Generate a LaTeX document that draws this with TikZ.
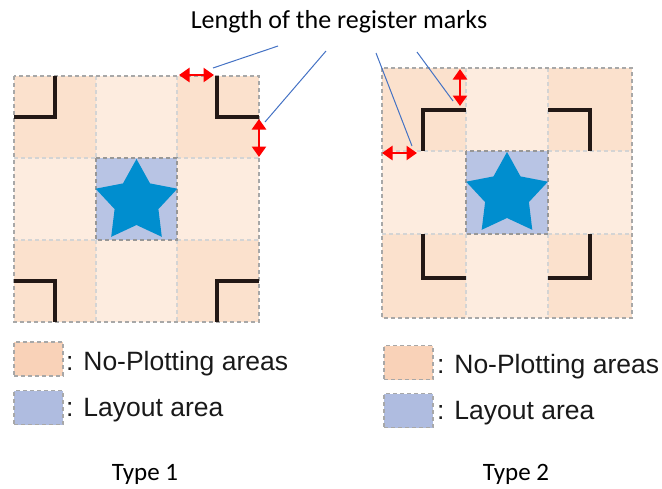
\documentclass[tikz,border=0pt]{standalone}
\usepackage{fontspec}
\setmainfont{Carlito}
\newfontfamily\legendfont{Liberation Sans}
\usetikzlibrary{arrows.meta}
\definecolor{npcorner}{HTML}{FBE1CD}
\definecolor{npedge}{HTML}{FDECDF}
\definecolor{layoutc}{HTML}{B8C4E4}
\definecolor{starblue}{HTML}{008ECF}
\definecolor{legnp}{HTML}{F9D2B8}
\definecolor{leglay}{HTML}{AFBCE0}
\definecolor{markc}{HTML}{231815}
\definecolor{callout}{HTML}{4472C4}
\definecolor{gridgray}{HTML}{A8A8A8}
\definecolor{gridlight}{HTML}{D4D4D4}
\tikzset{
  outerdash/.style={draw=gridgray, line width=1.2pt, dash pattern=on 4pt off 3pt},
  innerdash/.style={draw=gridlight, line width=1.2pt, dash pattern=on 4pt off 3pt},
  centerdash/.style={draw=gridgray!90!black, line width=1.2pt, dash pattern=on 4pt off 3pt},
  regmark/.style={draw=markc, line width=4pt, line join=miter},
  lenarrow/.style={draw=red, line width=2.7pt, {Triangle[length=10.5pt,width=14pt]}-{Triangle[length=10.5pt,width=14pt]}},
  calloutline/.style={draw=callout, line width=1pt},
  legbox/.style={draw=gridgray, line width=1.2pt, dash pattern=on 4pt off 3pt, minimum width=49pt, minimum height=34pt, inner sep=0pt},
  legtext/.style={anchor=base west, inner sep=0pt, text=black!90, font=\legendfont\fontsize{26.5}{30}\selectfont},
  typetext/.style={anchor=base, inner sep=0pt, font=\fontsize{25}{30}\selectfont},
  bigstar/.pic={\fill[starblue] (0,-43) -- (13.5,-18.6) -- (40.9,-13.3) -- (21.9,7.1) -- (25.3,34.8) -- (0,23) -- (-25.3,34.8) -- (-21.9,7.1) -- (-40.9,-13.3) -- (-13.5,-18.6) -- cycle;}
}
\begin{document}
\begin{tikzpicture}[x=1pt,y=-1pt]
\useasboundingbox (0,0) rectangle (662,488);
% ---------- Type 1 grid ----------
\fill[npcorner] (14,76) rectangle (96,158);
\fill[npedge] (96,76) rectangle (177,158);
\fill[npcorner] (177,76) rectangle (259,158);
\fill[npedge] (14,158) rectangle (96,240);
\fill[layoutc] (96,158) rectangle (177,240);
\fill[npedge] (177,158) rectangle (259,240);
\fill[npcorner] (14,240) rectangle (96,322);
\fill[npedge] (96,240) rectangle (177,322);
\fill[npcorner] (177,240) rectangle (259,322);
\draw[innerdash] (96,76) -- (96,158) (177,76) -- (177,158) (96,240) -- (96,322) (177,240) -- (177,322)
  (14,158) -- (96,158) (177,158) -- (259,158) (14,240) -- (96,240) (177,240) -- (259,240);
\draw[centerdash] (96,158) rectangle (177,240);
\draw[outerdash] (14,76) rectangle (259,322);
\pic at (136.5,202) {bigstar};
\draw[regmark] (55,76) -- (55,117) -- (14,117);
\draw[regmark] (217,76) -- (217,117) -- (259,117);
\draw[regmark] (14,281) -- (55,281) -- (55,322);
\draw[regmark] (259,281) -- (217,281) -- (217,322);
% ---------- Type 2 grid ----------
\fill[npcorner] (382,68) rectangle (466,151);
\fill[npedge] (466,68) rectangle (548,151);
\fill[npcorner] (548,68) rectangle (632,151);
\fill[npedge] (382,151) rectangle (466,234);
\fill[layoutc] (466,151) rectangle (548,234);
\fill[npedge] (548,151) rectangle (632,234);
\fill[npcorner] (382,234) rectangle (466,318);
\fill[npedge] (466,234) rectangle (548,318);
\fill[npcorner] (548,234) rectangle (632,318);
\draw[innerdash] (466,68) -- (466,151) (548,68) -- (548,151) (466,234) -- (466,318) (548,234) -- (548,318)
  (382,151) -- (466,151) (548,151) -- (632,151) (382,234) -- (466,234) (548,234) -- (632,234);
\draw[centerdash] (466,151) rectangle (548,234);
\draw[outerdash] (382,68) rectangle (632,318);
\pic at (507,195) {bigstar};
\draw[regmark] (466,110) -- (423,110) -- (423,151);
\draw[regmark] (548,110) -- (590,110) -- (590,151);
\draw[regmark] (423,234) -- (423,278) -- (466,278);
\draw[regmark] (590,234) -- (590,278) -- (548,278);
% ---------- length arrows ----------
\coordinate (h1a) at (179,75); \coordinate (h1b) at (214,75);
\coordinate (v1a) at (259,119); \coordinate (v1b) at (259,157);
\coordinate (v2a) at (460,69); \coordinate (v2b) at (460,106);
\coordinate (h2a) at (382,153); \coordinate (h2b) at (417,153);
\draw[lenarrow] (h1a) -- (h1b);
\draw[lenarrow] (v1a) -- (v1b);
\draw[lenarrow] (v2a) -- (v2b);
\draw[lenarrow] (h2a) -- (h2b);
% ---------- title and callouts ----------
\node[typetext, font=\fontsize{26}{30}\selectfont] (title) at (339,28) {Length of the register marks};
\coordinate (c1s) at (278,46); \coordinate (c1e) at (213,68);
\coordinate (c2s) at (326,51); \coordinate (c2e) at (265,122);
\coordinate (c3s) at (376,53); \coordinate (c3e) at (412,146);
\coordinate (c4s) at (417,52); \coordinate (c4e) at (453,101);
\draw[calloutline] (c1s) -- (c1e);
\draw[calloutline] (c2s) -- (c2e);
\draw[calloutline] (c3s) -- (c3e);
\draw[calloutline] (c4s) -- (c4e);
% ---------- legends ----------
\node[legbox, fill=legnp] (lg1a) at (38.5,359) {};
\node[legbox, fill=leglay] (lg1b) at (38.5,407.5) {};
\node[legtext] (lt1a) at (66,370) {: No-Plotting areas};
\node[legtext] (lt1b) at (66,416) {: Layout area};
\node[legbox, fill=legnp] (lg2a) at (408.5,362.5) {};
\node[legbox, fill=leglay] (lg2b) at (408.5,410.5) {};
\node[legtext] (lt2a) at (437,373) {: No-Plotting areas};
\node[legtext] (lt2b) at (437,419) {: Layout area};
\node[typetext] (type1) at (145,480) {Type 1};
\node[typetext] (type2) at (516,480) {Type 2};
\end{tikzpicture}
\end{document}
